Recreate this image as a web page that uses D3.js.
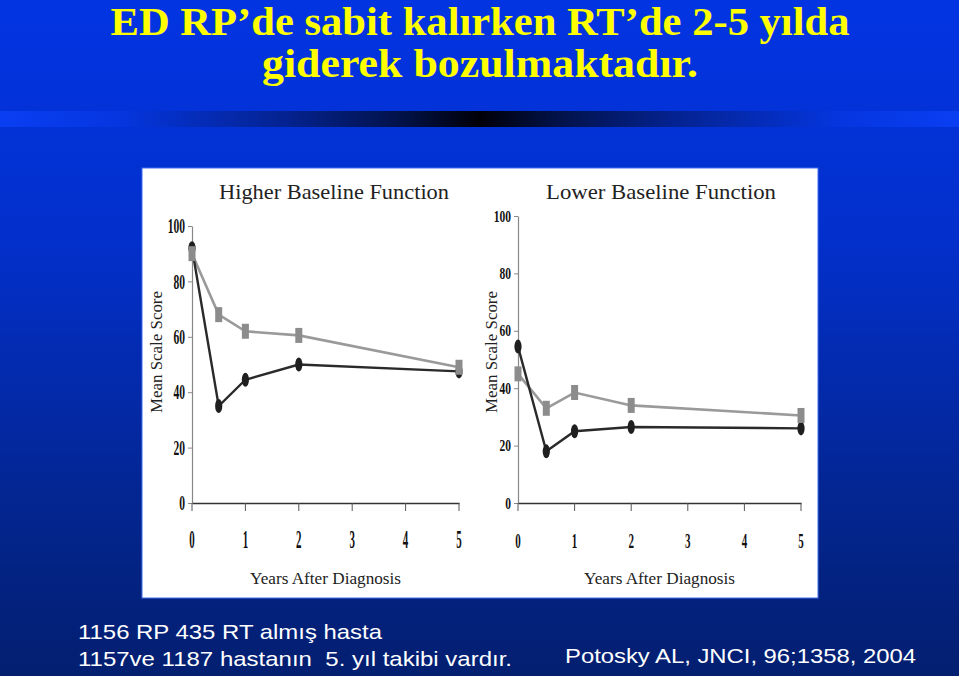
<!DOCTYPE html>
<html>
<head>
<meta charset="utf-8">
<script src="https://cdn.jsdelivr.net/npm/d3@7"></script>
<style>
  body { margin: 0; padding: 0; overflow: hidden; }
  svg { display: block; }
</style>
</head>
<body>
<div id="slide"></div>
<script>
// veriler: grafikten okunan ortalama skorlar
const years = [0, 0.5, 1, 2, 5];
const xTicks = [0, 1, 2, 3, 4, 5];
const yTicks = [0, 20, 40, 60, 80, 100];

// yüksek bazal fonksiyon
const higherRT = [90, 68, 62, 60.5, 49];     // gri kareler
const higherRP = [92, 35, 44.5, 50, 47.5];   // siyah noktalar
// düşük bazal fonksiyon
const lowerRT = [45, 33, 38.5, 34, 30.5];
const lowerRP = [54.5, 18, 25, 26.5, 26];

const panelTitles = ["Higher Baseline Function", "Lower Baseline Function"];
const titleLines = ["ED RP’de sabit kalırken RT’de 2-5 yılda", "giderek bozulmaktadır."];
const noteLines = ["1156 RP 435 RT almış hasta", "1157ve 1187 hastanın  5. yıl takibi vardır."];
const citation = "Potosky AL, JNCI, 96;1358, 2004";

const width = 959;
const height = 676;

const svg = d3.select("#slide")
  .append("svg")
  .attr("width", width)
  .attr("height", height);

const defs = svg.append("defs");

// arka plan degrade
const bg = defs.append("linearGradient")
  .attr("id", "bg").attr("x1", 0).attr("y1", 0).attr("x2", 0).attr("y2", 1);
bg.append("stop").attr("offset", "0%").attr("stop-color", "#0234e2");
bg.append("stop").attr("offset", "35%").attr("stop-color", "#0330cc");
bg.append("stop").attr("offset", "75%").attr("stop-color", "#03258f");
bg.append("stop").attr("offset", "100%").attr("stop-color", "#031f70");

const bar = defs.append("linearGradient")
  .attr("id", "bar").attr("x1", 0).attr("y1", 0).attr("x2", 1).attr("y2", 0);
[["0%", "#0a3ef2"], ["12%", "#0536e0"], ["30%", "#04228f"], ["42%", "#021248"],
 ["50%", "#000008"], ["58%", "#021248"], ["70%", "#04228f"], ["88%", "#0536e0"], ["100%", "#0a3ef2"]]
  .forEach(s => bar.append("stop").attr("offset", s[0]).attr("stop-color", s[1]));

svg.append("rect").attr("width", width).attr("height", height).attr("fill", "url(#bg)");
svg.append("rect").attr("x", 0).attr("y", 111).attr("width", width).attr("height", 16)
  .attr("fill", "url(#bar)");

// başlık
svg.selectAll("text.title")
  .data(titleLines)
  .enter()
  .append("text")
  .attr("class", "title")
  .attr("x", 480)
  .attr("y", (d, i) => i === 0 ? 35 : 77)
  .attr("text-anchor", "middle")
  .attr("textLength", (d, i) => i === 0 ? 739 : 436)
  .attr("lengthAdjust", "spacingAndGlyphs")
  .style("font-family", "'Liberation Serif', 'Times New Roman', serif")
  .style("font-weight", "bold")
  .style("font-size", "39px")
  .attr("fill", "#ffff00")
  .text(d => d);

// beyaz grafik alanı
svg.append("rect")
  .attr("x", 142).attr("y", 168)
  .attr("width", 676).attr("height", 430)
  .attr("fill", "#ffffff")
  .attr("stroke", "#3f6cf0")
  .attr("stroke-width", 1);

const panels = [
  { title: panelTitles[0], rt: higherRT, rp: higherRP,
    xr: [192, 459], yr: [503, 226], titleX: 334, ylabX: 162,
    yFont: 21, yScaleX: 0.55, xFont: 26, xScaleX: 0.42 },
  { title: panelTitles[1], rt: lowerRT, rp: lowerRP,
    xr: [518, 801], yr: [503, 216], titleX: 661, ylabX: 497,
    yFont: 16, yScaleX: 0.72, xFont: 20, xScaleX: 0.55 }
];

const serif = "'Liberation Serif', 'Times New Roman', serif";

panels.forEach(p => {
  const x = d3.scaleLinear().domain([0, 5]).range(p.xr);
  const y = d3.scaleLinear().domain([0, 100]).range(p.yr);
  const g = svg.append("g");

  // y ekseni
  const yAxis = g.append("g")
    .attr("transform", `translate(${p.xr[0]},0)`)
    .call(d3.axisLeft(y).tickValues(yTicks).tickSize(4).tickSizeOuter(0).tickFormat(d3.format("d")));
  yAxis.select(".domain").attr("stroke", "#888").attr("stroke-width", 1.2);
  yAxis.selectAll(".tick line").attr("stroke", "#888");
  yAxis.selectAll(".tick text")
    .attr("x", -7 / p.yScaleX)
    .attr("transform", `scale(${p.yScaleX},1)`)
    .style("font-family", serif)
    .style("font-weight", "bold")
    .style("font-size", p.yFont + "px")
    .attr("fill", "#111");

  // x ekseni
  const xAxis = g.append("g")
    .attr("transform", `translate(0,${p.yr[0]})`)
    .call(d3.axisBottom(x).tickValues(xTicks).tickSize(8).tickSizeOuter(0).tickFormat(d3.format("d")));
  xAxis.select(".domain").attr("stroke", "#333").attr("stroke-width", 1.6);
  xAxis.selectAll(".tick line").attr("stroke", "#555");
  xAxis.selectAll(".tick text")
    .attr("x", 0)
    .attr("y", 45)
    .attr("dy", 0)
    .attr("transform", d => `translate(${x(d)},0) scale(${p.xScaleX},1)`)
    .style("font-family", serif)
    .style("font-weight", "bold")
    .style("font-size", p.xFont + "px")
    .attr("fill", "#111");
  // scale sadece metne uygulanmalı, tick grubunun translate'ini geri al
  xAxis.selectAll(".tick").attr("transform", null);
  xAxis.selectAll(".tick line").attr("transform", d => `translate(${x(d)},0)`);

  const line = d3.line().x((d, i) => x(years[i])).y(d => y(d));

  // gri çizgi (RT)
  g.append("path")
    .datum(p.rt)
    .attr("d", line)
    .attr("fill", "none")
    .attr("stroke", "#9a9a9a")
    .attr("stroke-width", 2.6);

  // siyah çizgi (RP)
  g.append("path")
    .datum(p.rp)
    .attr("d", line)
    .attr("fill", "none")
    .attr("stroke", "#2a2a2a")
    .attr("stroke-width", 2.4);

  g.selectAll("ellipse")
    .data(p.rp)
    .enter()
    .append("ellipse")
    .attr("cx", (d, i) => x(years[i]))
    .attr("cy", d => y(d))
    .attr("rx", 3.6)
    .attr("ry", 7)
    .attr("fill", "#1f1f1f");

  g.selectAll("rect.sq")
    .data(p.rt)
    .enter()
    .append("rect")
    .attr("class", "sq")
    .attr("x", (d, i) => x(years[i]) - 3.5)
    .attr("y", d => y(d) - 7.5)
    .attr("width", 7)
    .attr("height", 15)
    .attr("fill", "#8c8c8c");

  // panel başlığı
  g.append("text")
    .attr("x", p.titleX)
    .attr("y", 199)
    .attr("text-anchor", "middle")
    .attr("textLength", 230)
    .attr("lengthAdjust", "spacingAndGlyphs")
    .style("font-family", serif)
    .style("font-size", "21px")
    .attr("fill", "#222")
    .text(p.title);

  // eksen başlıkları
  g.append("text")
    .attr("x", (p.xr[0] + p.xr[1]) / 2)
    .attr("y", 584)
    .attr("text-anchor", "middle")
    .attr("textLength", 151)
    .attr("lengthAdjust", "spacingAndGlyphs")
    .style("font-family", serif)
    .style("font-size", "17px")
    .attr("fill", "#222")
    .text("Years After Diagnosis");

  g.append("text")
    .attr("transform", `translate(${p.ylabX},352) rotate(-90)`)
    .attr("text-anchor", "middle")
    .attr("textLength", 122)
    .attr("lengthAdjust", "spacingAndGlyphs")
    .style("font-family", serif)
    .style("font-size", "17px")
    .attr("fill", "#222")
    .text("Mean Scale Score");
});

// alt notlar
svg.selectAll("text.note")
  .data(noteLines)
  .enter()
  .append("text")
  .attr("class", "note")
  .attr("x", 78)
  .attr("y", (d, i) => i === 0 ? 639 : 666)
  .attr("textLength", (d, i) => i === 0 ? 304 : 434)
  .attr("lengthAdjust", "spacingAndGlyphs")
  .style("white-space", "pre")
  .style("font-family", "'Liberation Sans', Arial, sans-serif")
  .style("font-size", "21px")
  .attr("fill", "#ffffff")
  .text(d => d);

svg.append("text")
  .attr("x", 565)
  .attr("y", 663)
  .attr("textLength", 351)
  .attr("lengthAdjust", "spacingAndGlyphs")
  .style("font-family", "'Liberation Sans', Arial, sans-serif")
  .style("font-size", "21px")
  .attr("fill", "#ffffff")
  .text(citation);
</script>
</body>
</html>
